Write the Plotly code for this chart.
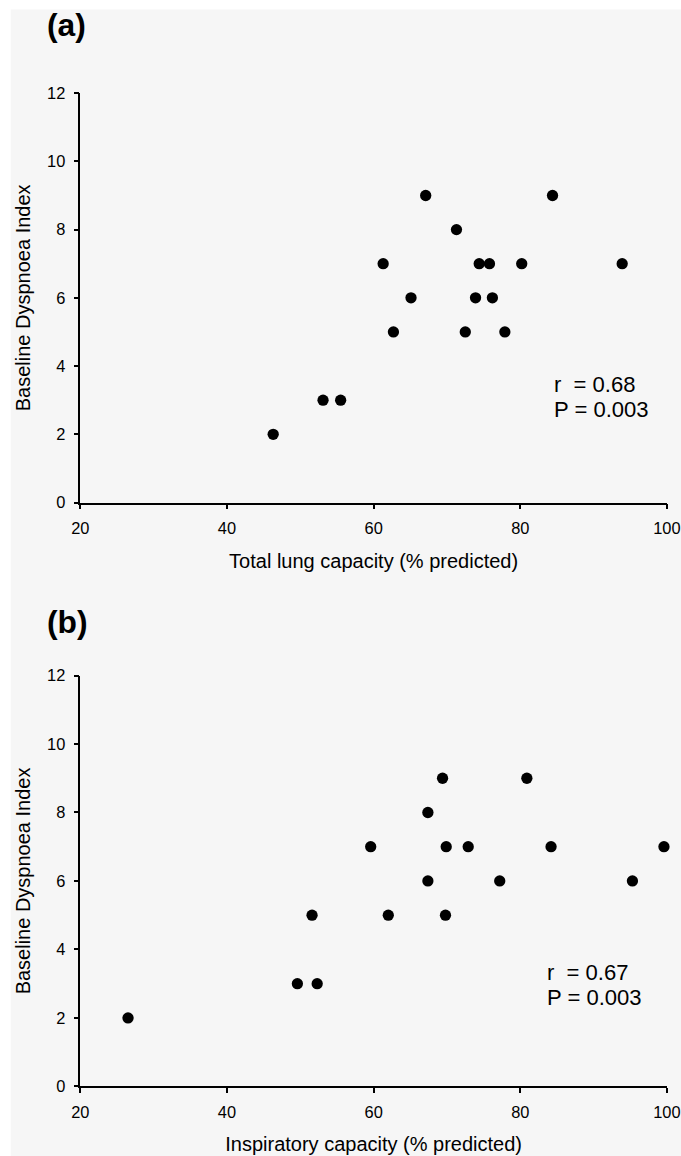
import plotly.graph_objects as go

# ---- data ----
tlc_pct = [46.3, 53.1, 55.5, 62.7, 72.5, 77.9, 65.1, 73.9, 76.2,
           61.3, 74.4, 75.8, 80.2, 93.9, 71.3, 67.1, 84.4]
bdi_a = [2, 3, 3, 5, 5, 5, 6, 6, 6, 7, 7, 7, 7, 7, 8, 9, 9]

ic_pct = [26.5, 49.6, 52.3, 51.6, 62.0, 69.8, 67.4, 77.2, 95.3,
          59.6, 69.9, 72.9, 84.2, 99.6, 67.4, 69.4, 80.9]
bdi_b = [2, 3, 3, 5, 5, 5, 6, 6, 6, 7, 7, 7, 7, 7, 8, 9, 9]

x_ticks = [20, 40, 60, 80, 100]
y_ticks = [0, 2, 4, 6, 8, 10, 12]

panel_labels = ["(a)", "(b)"]
x_titles = ["Total lung capacity (% predicted)", "Inspiratory capacity (% predicted)"]
y_title = "Baseline Dyspnoea Index"
stats_a = ["r\u00a0 = 0.68", "P = 0.003"]
stats_b = ["r\u00a0 = 0.67", "P = 0.003"]

W, H = 681, 1156
FONT = "Arial, Liberation Sans, sans-serif"

# the captured picture shows the page slightly inset; map target picture
# pixels to page pixels
SX, AX = 0.968, 9.2
SY, AY = 0.986, 7.4
FS = 1 / 0.975  # font/marker size compensation


def px_x(p):
    return ((p - AX) / SX) / W


def px_y(p):
    return 1 - ((p - AY) / SY) / H


def fs(v):
    return round(v * FS, 2)


fig = go.Figure()
fig.add_trace(go.Scatter(x=tlc_pct, y=bdi_a, mode="markers", xaxis="x", yaxis="y",
                         marker=dict(color="black", size=fs(11)), cliponaxis=False,
                         showlegend=False))
fig.add_trace(go.Scatter(x=ic_pct, y=bdi_b, mode="markers", xaxis="x2", yaxis="y2",
                         marker=dict(color="black", size=fs(11)), cliponaxis=False,
                         showlegend=False))

axis_common = dict(showline=True, linecolor="black", linewidth=1.6,
                   ticks="outside", ticklen=5, tickwidth=1.6, tickcolor="black",
                   showgrid=False, zeroline=False, ticklabeloverflow="allow",
                   tickfont=dict(family=FONT, size=fs(16), color="black"))

xdom = [px_x(80.7), min(1.0, px_x(668.3))]
ydom_a = [px_y(501.7), px_y(91.7)]
ydom_b = [px_y(1086.5), px_y(675)]

shapes = [dict(type="rect", xref="paper", yref="paper",
               x0=max(0.0, px_x(11)), x1=1.04, y0=-0.03, y1=min(1.0, px_y(8)),
               fillcolor="#f6f6f6", line=dict(width=0), layer="below")]

t_font = dict(size=fs(19.5))
fig.update_layout(
    width=W, height=H,
    margin=dict(l=0, r=0, t=0, b=0),
    paper_bgcolor="white",
    plot_bgcolor="rgba(0,0,0,0)",
    font=dict(family=FONT, color="black"),
    xaxis=dict(axis_common, domain=xdom, range=[20, 100], tickvals=x_ticks,
               anchor="y", ticklabelstandoff=5,
               title=dict(text=x_titles[0], font=t_font, standoff=17.5)),
    yaxis=dict(axis_common, domain=ydom_a, range=[0, 12], tickvals=y_ticks,
               anchor="x", ticklabelstandoff=5,
               title=dict(text=y_title, font=t_font, standoff=11)),
    xaxis2=dict(axis_common, domain=xdom, range=[20, 100], tickvals=x_ticks,
                anchor="y2", ticklabelstandoff=5,
                title=dict(text=x_titles[1], font=t_font, standoff=17.5)),
    yaxis2=dict(axis_common, domain=ydom_b, range=[0, 12], tickvals=y_ticks,
                anchor="x2", ticklabelstandoff=5,
                title=dict(text=y_title, font=t_font, standoff=11)),
    shapes=shapes,
)

annotations = [
    dict(text="<b>" + panel_labels[0] + "</b>", xref="paper", yref="paper",
         x=px_x(67), y=px_y(23), xanchor="center", yanchor="middle",
         showarrow=False, font=dict(size=fs(31), family=FONT)),
    dict(text="<b>" + panel_labels[1] + "</b>", xref="paper", yref="paper",
         x=px_x(68), y=px_y(621), xanchor="center", yanchor="middle",
         showarrow=False, font=dict(size=fs(31), family=FONT)),
    dict(text=stats_a[0], xref="x", yref="y", x=84.3, y=3.47,
         xanchor="left", yanchor="middle", showarrow=False, font=dict(size=fs(21.5))),
    dict(text=stats_a[1], xref="x", yref="y", x=84.3, y=2.74,
         xanchor="left", yanchor="middle", showarrow=False, font=dict(size=fs(21.5))),
    dict(text=stats_b[0], xref="x2", yref="y2", x=83.4, y=3.34,
         xanchor="left", yanchor="middle", showarrow=False, font=dict(size=fs(21.5))),
    dict(text=stats_b[1], xref="x2", yref="y2", x=83.4, y=2.61,
         xanchor="left", yanchor="middle", showarrow=False, font=dict(size=fs(21.5))),
]
fig.update_layout(annotations=annotations)

fig.write_html(
    "out.html",
    config={"displayModeBar": False},
    post_script="document.body.style.margin='0';document.body.style.overflow='hidden';",
)
